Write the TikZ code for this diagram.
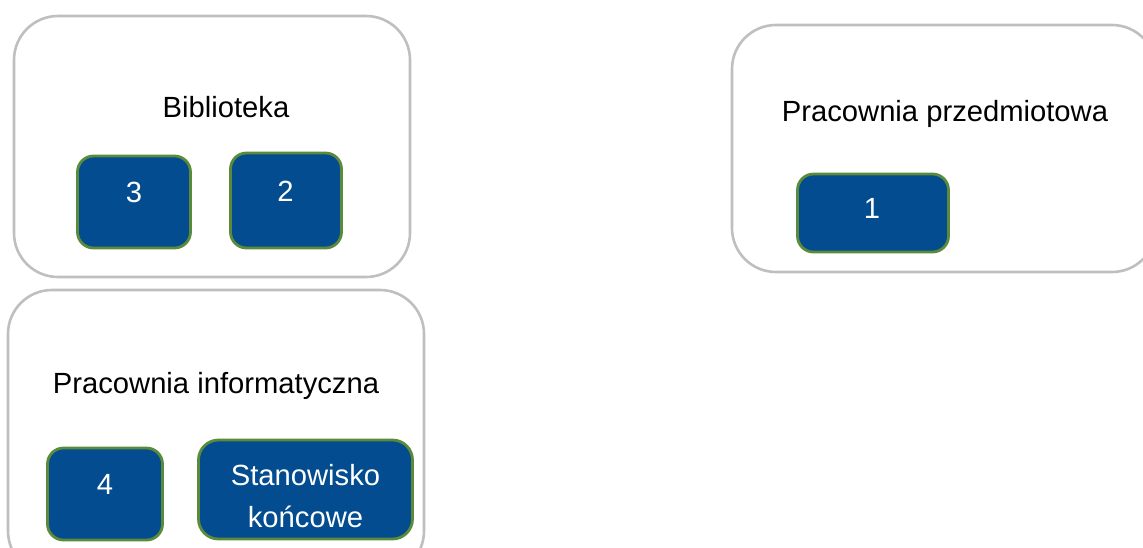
\documentclass[tikz,border=0pt]{standalone}
\usepackage{fontspec}
\setmainfont{Liberation Sans}
\definecolor{outerline}{HTML}{BFBFBF}
\definecolor{innerline}{HTML}{5A8A3A}
\definecolor{innerfill}{HTML}{024C8F}
\tikzset{
  outerbox/.style={draw=outerline,line width=2.6pt,fill=white,rounded corners=44pt},
  innerbox/.style={draw=innerline,line width=2.8pt,fill=innerfill,rounded corners=16pt},
  title/.style={anchor=base,inner sep=0pt,text=black,font=\fontsize{29.2}{34}\selectfont},
  num/.style={anchor=base,inner sep=0pt,text=white,font=\fontsize{29.2}{34}\selectfont},
}
\begin{document}
\begin{tikzpicture}[x=1pt,y=-1pt]
\useasboundingbox (0,0) rectangle (1143,547);
\clip (0,0) rectangle (1143,547);
% outer
\draw[outerbox] (14,16) rectangle (410,277);
\draw[outerbox] (8,290) rectangle (424,575);
\draw[outerbox] (732,25) rectangle (1156,272);
% inner
\draw[innerbox] (77.5,156) rectangle (190.5,248);
\draw[innerbox] (230.5,153) rectangle (341.5,248);
\draw[innerbox] (47.5,448) rectangle (162.5,540);
\draw[innerbox,rounded corners=20pt] (198.5,440) rectangle (412.5,539);
\draw[innerbox] (797.5,174) rectangle (948.5,252);
% text
\node[title] (biblioteka) at (226,117.5) {Biblioteka};
\node[title] (informatyczna) at (216,393.5) {Pracownia informatyczna};
\node[title] (przedmiotowa) at (945,121.5) {Pracownia przedmiotowa};
\node[num] (n3) at (134,202.5) {3};
\node[num] (n2) at (285.5,201.5) {2};
\node[num] (n1) at (872,218.5) {1};
\node[num] (n4) at (105,494) {4};
\node[num] (st1) at (305.5,485.5) {Stanowisko};
\node[num] (st2) at (305.5,527.5) {końcowe};
\end{tikzpicture}
\end{document}
